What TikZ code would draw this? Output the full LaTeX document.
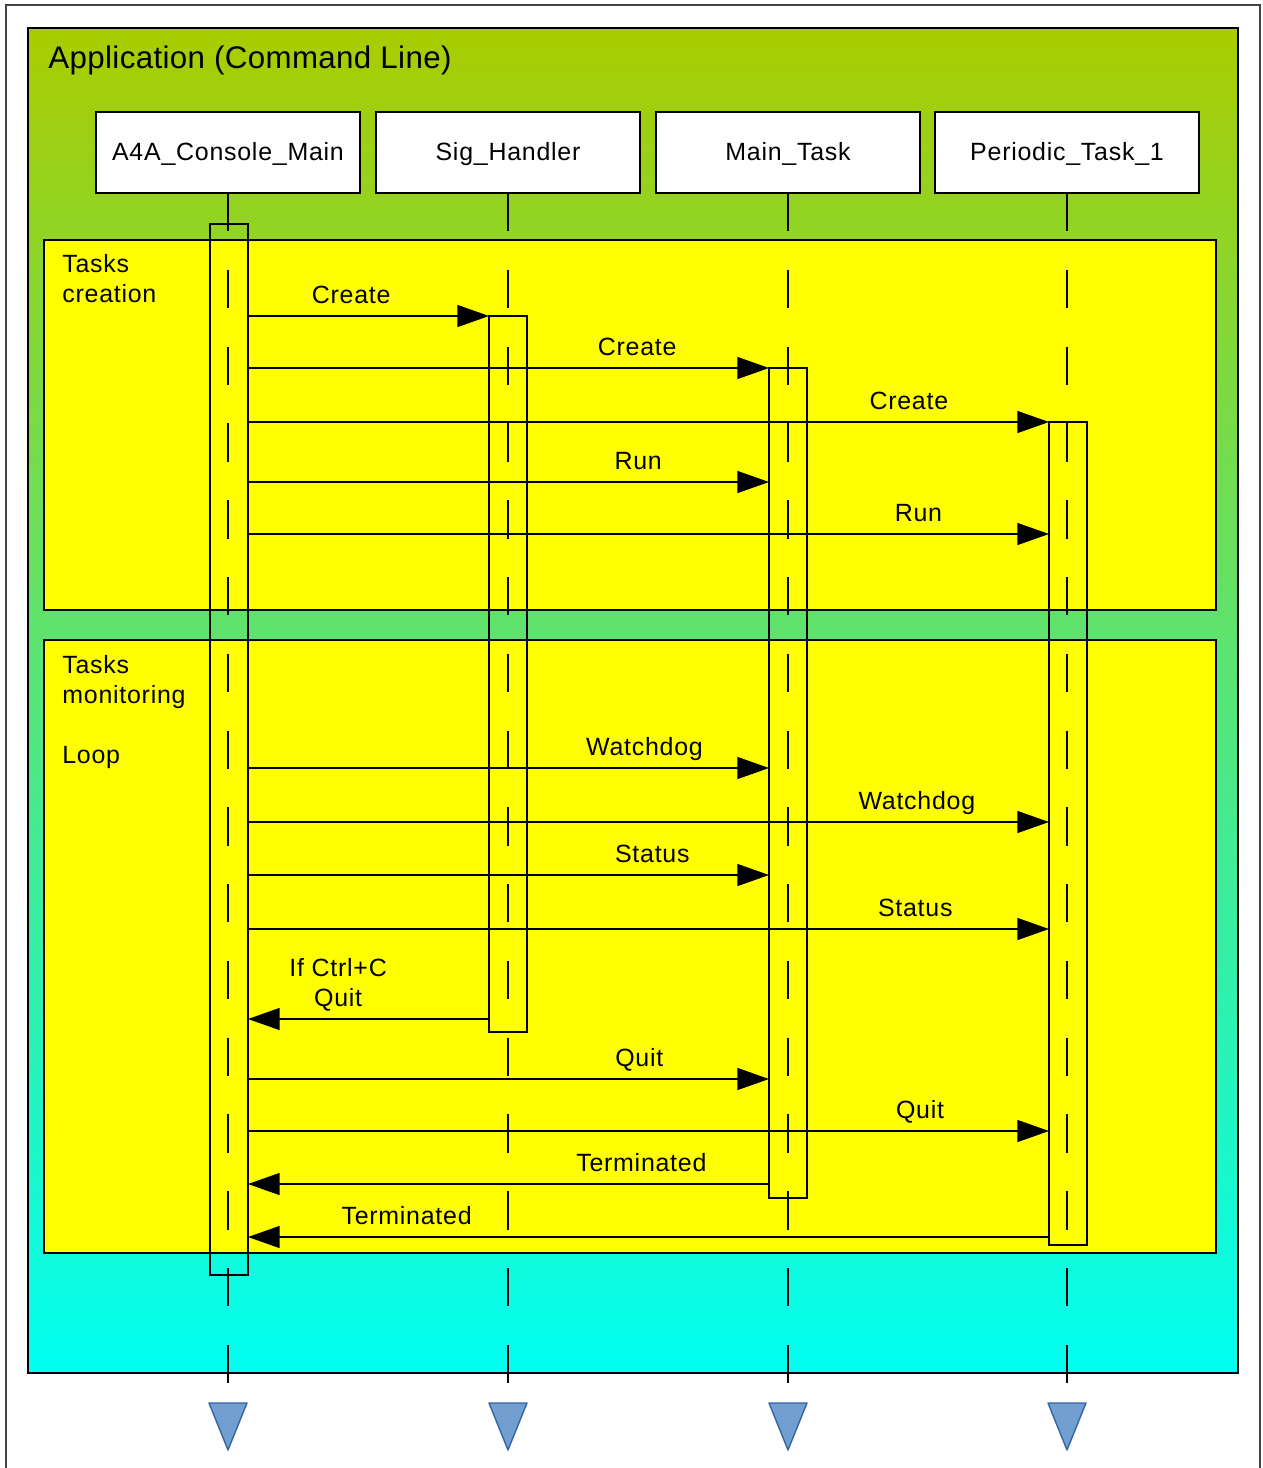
\documentclass[tikz,border=0pt]{standalone}
\usepackage{fontspec}
\setmainfont{Liberation Sans}
\usetikzlibrary{arrows.meta, positioning}
\definecolor{AppTop}{HTML}{AACC00}
\definecolor{AppBottom}{HTML}{00FFF2}
\definecolor{FrameYellow}{HTML}{FFFF00}
\definecolor{EndFill}{HTML}{729FCF}
\definecolor{EndLine}{HTML}{3465A4}
\definecolor{BorderGray}{HTML}{444444}
\newcommand{\lblfont}{\fontsize{14.2}{17}\selectfont\addfontfeature{LetterSpace=3}}

\begin{document}
\begin{tikzpicture}[
    x=0.02cm, y=-0.02cm,
    head/.style={
      rectangle, draw=black, fill=white, line width=0.8pt,
      minimum width=5.28cm, minimum height=1.62cm,
      text height=12pt, text depth=2.4pt,
      inner sep=0pt, outer sep=0pt, font=\lblfont
    },
    act/.style={
      rectangle, draw=black, line width=0.8pt,
      minimum width=0.76cm, inner sep=0pt, outer sep=0pt
    },
    frame/.style={draw=black, fill=FrameYellow, line width=0.8pt},
    life/.style={black, line width=0.8pt, dash pattern=on 0.768cm off 0.768cm},
    msg/.style={-{Triangle[length=18pt, width=12.5pt]}, line width=0.8pt},
    lbl/.style={anchor=base, yshift=7.4pt, font=\lblfont, inner sep=0pt},
    note/.style={anchor=north west, align=left, font=\lblfont, inner sep=0pt},
    endmark/.style={fill=EndFill, draw=EndLine, line width=0.8pt, line join=round}
  ]
  \useasboundingbox (0,0) rectangle (1263,1468);
  \fill[white] (0,0) rectangle (1263,1468);
  \draw[BorderGray, line width=1pt] (6,5) rectangle (1260,1475);

  % application area
  \draw[black, line width=0.8pt, top color=AppTop, bottom color=AppBottom]
    (28,28) rectangle (1238,1373);
  \node[anchor=base west, inner sep=0pt,
        font=\fontsize{17.8}{21}\selectfont\addfontfeature{LetterSpace=1.2}]
    (apptitle) at (48,68) {Application (Command Line)};

  % frames
  \draw[frame] (44,240) rectangle (1216,610);
  \draw[frame] (44,640) rectangle (1216,1253);
  \node[note] (creation) at (62,254) {Tasks\\creation};
  \node[note] (monitor)  at (62,655) {Tasks\\monitoring\\[17pt]Loop};

  % objects
  \node[head] (cons) at (228,152.5)  {A4A\_Console\_Main};
  \node[head] (sig)  at (508,152.5)  {Sig\_Handler};
  \node[head] (main) at (788,152.5)  {Main\_Task};
  \node[head] (per)  at (1067,152.5) {Periodic\_Task\_1};

  \foreach \n in {cons,sig,main,per} {
    \draw[life] (\n.south) -- (\n.south |- 0,1386);
    \draw[endmark] (\n.south |- 0,1403) ++(-19,0) -- ++(38,0) -- ++(-19,47) -- cycle;
  }

  % activations
  \node[act, minimum height=21.02cm] (consact) at (229,749.5) {};
  \node[act, minimum height=14.32cm] (sigact)  at (508,674)   {};
  \node[act, minimum height=16.6cm]  (mainact) at (788,783)   {};
  \node[act, minimum height=16.46cm] (peract)  at (1068,833.5) {};

  % messages
  \draw[msg] (consact.east |- 0,316) -- node[lbl, pos=0.428] {Create} (sigact.west |- 0,316);
  \draw[msg] (consact.east |- 0,368) -- node[lbl, pos=0.747] {Create} (mainact.west |- 0,368);
  \draw[msg] (consact.east |- 0,422) -- node[lbl, pos=0.825] {Create} (peract.west |- 0,422);
  \draw[msg] (consact.east |- 0,482) -- node[lbl, pos=0.749] {Run} (mainact.west |- 0,482);
  \draw[msg] (consact.east |- 0,534) -- node[lbl, pos=0.837] {Run} (peract.west |- 0,534);
  \draw[msg] (consact.east |- 0,768) -- node[lbl, pos=0.761] {Watchdog} (mainact.west |- 0,768);
  \draw[msg] (consact.east |- 0,822) -- node[lbl, pos=0.835] {Watchdog} (peract.west |- 0,822);
  \draw[msg] (consact.east |- 0,875) -- node[lbl, pos=0.776] {Status} (mainact.west |- 0,875);
  \draw[msg] (consact.east |- 0,929) -- node[lbl, pos=0.833] {Status} (peract.west |- 0,929);
  \draw[msg] (sigact.west |- 0,1019) -- node[lbl, pos=0.626, anchor=south, yshift=-3.2pt, align=center]
    {If Ctrl+C\\Quit} (consact.east |- 0,1019);
  \draw[msg] (consact.east |- 0,1079) -- node[lbl, pos=0.751] {Quit} (mainact.west |- 0,1079);
  \draw[msg] (consact.east |- 0,1131) -- node[lbl, pos=0.839] {Quit} (peract.west |- 0,1131);
  \draw[msg] (mainact.west |- 0,1184) -- node[lbl, pos=0.245] {Terminated} (consact.east |- 0,1184);
  \draw[msg] (peract.west |- 0,1237) -- node[lbl, pos=0.802] {Terminated} (consact.east |- 0,1237);
\end{tikzpicture}
\end{document}
